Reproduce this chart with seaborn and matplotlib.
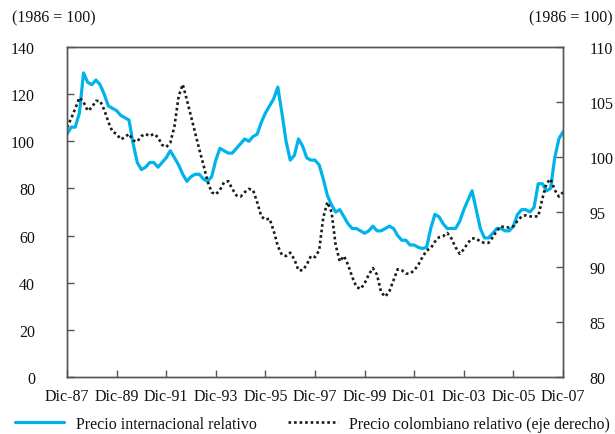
import numpy as np
import pandas as pd
import matplotlib
matplotlib.use("Agg")
import matplotlib.pyplot as plt
import seaborn as sns
from matplotlib.lines import Line2D

# Bimonthly observations starting Dec-1987 (index in months since Dec-87)
precio_internacional = [
    103, 106, 106, 112, 129, 125, 124, 126, 124, 120,
    115, 114, 113, 111, 110, 109, 99, 91, 88, 89,
    91, 91, 89, 91, 93, 96, 93, 90, 86, 83,
    85, 86, 86, 84, 83, 85, 92, 97, 96, 95,
    95, 97, 99, 101, 100, 102, 103, 108, 112, 115,
    118, 123, 112, 100, 92, 94, 101, 98, 93, 92,
    92, 90, 84, 77, 73, 70, 71, 68, 65, 63,
    63, 62, 61, 62, 64, 62, 62, 63, 64, 63,
    60, 58, 58, 56, 56, 55, 54.5, 55, 63, 69,
    68, 65, 63, 63, 63, 66, 71, 75, 79, 71,
    63, 59, 59, 61, 63, 63, 62, 62, 64, 69,
    71, 71, 70, 72, 82, 82, 79, 80, 93, 101,
    104,
]
precio_colombiano = [
    102.7, 103.5, 104.4, 105.4, 105.0, 104.2, 104.5, 105.1, 105.1, 104.3,
    103.2, 102.3, 102.1, 101.6, 101.8, 102.1, 101.5, 101.4, 101.9, 102.1,
    101.9, 102.1, 101.8, 101.1, 100.9, 101.3, 102.8, 105.5, 106.6, 105.2,
    103.7, 102.2, 100.7, 99.3, 97.8, 96.8, 96.6, 97.0, 97.7, 97.8,
    97.1, 96.5, 96.4, 96.8, 97.1, 97.0, 95.9, 94.6, 94.3, 94.4,
    93.3, 91.9, 91.1, 91.0, 91.3, 90.7, 89.7, 89.7, 90.2, 91.0,
    90.9, 91.5, 94.5, 95.9, 95.0, 92.0, 90.5, 91.0, 90.2, 89.1,
    88.2, 88.0, 88.5, 89.3, 89.9, 89.3, 87.7, 87.3, 87.8, 88.8,
    89.8, 89.7, 89.4, 89.4, 89.7, 90.2, 90.9, 91.5, 91.7, 92.3,
    92.7, 92.8, 93.1, 92.6, 91.8, 91.2, 91.6, 92.2, 92.6, 92.6,
    92.3, 92.2, 92.2, 92.7, 93.3, 93.7, 93.6, 93.6, 93.7, 94.2,
    94.6, 94.7, 94.6, 94.6, 94.6, 96.2, 97.6, 98.0, 97.0, 96.4,
    96.8,
]
tick_labels = ["Dic-87", "Dic-89", "Dic-91", "Dic-93", "Dic-95", "Dic-97",
               "Dic-99", "Dic-01", "Dic-03", "Dic-05", "Dic-07"]
left_ticks = [0, 20, 40, 60, 80, 100, 120, 140]
right_ticks = [80, 85, 90, 95, 100, 105, 110]
label_izq = "Precio internacional relativo"
label_der = "Precio colombiano relativo (eje derecho)"
unidad = "(1986 = 100)"

meses = np.arange(len(precio_internacional)) * 2
df = pd.DataFrame({"mes": meses, "int": precio_internacional, "col": precio_colombiano})

sns.set_theme(style="white")
plt.rcParams["font.family"] = ["Liberation Serif", "DejaVu Serif"]
FS = 11.5

fig = plt.figure(figsize=(6.15, 4.35), dpi=100)
ax = fig.add_axes([67 / 615, 1 - 378 / 435, (563 - 67) / 615, (378 - 48) / 435])
ax2 = ax.twinx()

cyan = "#00B4EB"
dot_style = (0, (1, 1.1))
sns.lineplot(data=df, x="mes", y="int", ax=ax, color=cyan, lw=2.3, legend=False)
sns.lineplot(data=df, x="mes", y="col", ax=ax2, color="#1a1a1a", lw=1.9,
             linestyle=dot_style, legend=False)

ax.set_xlim(0, 240)
ax.set_ylim(0, 140)
ax2.set_ylim(80, 110)
ax.set_xticks(np.arange(0, 241, 24))
ax.set_xticklabels(tick_labels)
ax.set_yticks(left_ticks)
ax2.set_yticks(right_ticks)
ax.set_xlabel("")
ax.set_ylabel("")
ax2.set_ylabel("")

for a in (ax, ax2):
    for s in a.spines.values():
        s.set_color("#555555")
        s.set_linewidth(1.0)
ax.tick_params(axis="y", direction="in", length=5, width=1, color="#555555",
               pad=23, labelsize=FS, left=True, labelcolor="#111111")
ax.tick_params(axis="x", direction="in", length=5, width=1, color="#555555",
               pad=8, labelsize=FS, bottom=True, labelcolor="#111111")
ax2.tick_params(axis="y", direction="in", length=5, width=1, color="#555555",
                pad=19, labelsize=FS, right=True, labelcolor="#111111")

fig.text(12 / 615, 1 - 18 / 435, unidad, fontsize=FS, ha="left", va="center", color="#111111")
fig.text(613 / 615, 1 - 18 / 435, unidad, fontsize=FS, ha="right", va="center", color="#111111")

handles = [Line2D([], [], color=cyan, lw=2.3),
           Line2D([], [], color="#1a1a1a", lw=1.9, linestyle=dot_style)]
fig.legend(handles, [label_izq, label_der], loc="center", ncol=2,
           bbox_to_anchor=(0.508, 1 - 425 / 435), frameon=False, fontsize=FS,
           handlelength=3.1, columnspacing=2.0, handletextpad=0.7,
           labelcolor="#111111")

fig.savefig("out.png", dpi=100)
